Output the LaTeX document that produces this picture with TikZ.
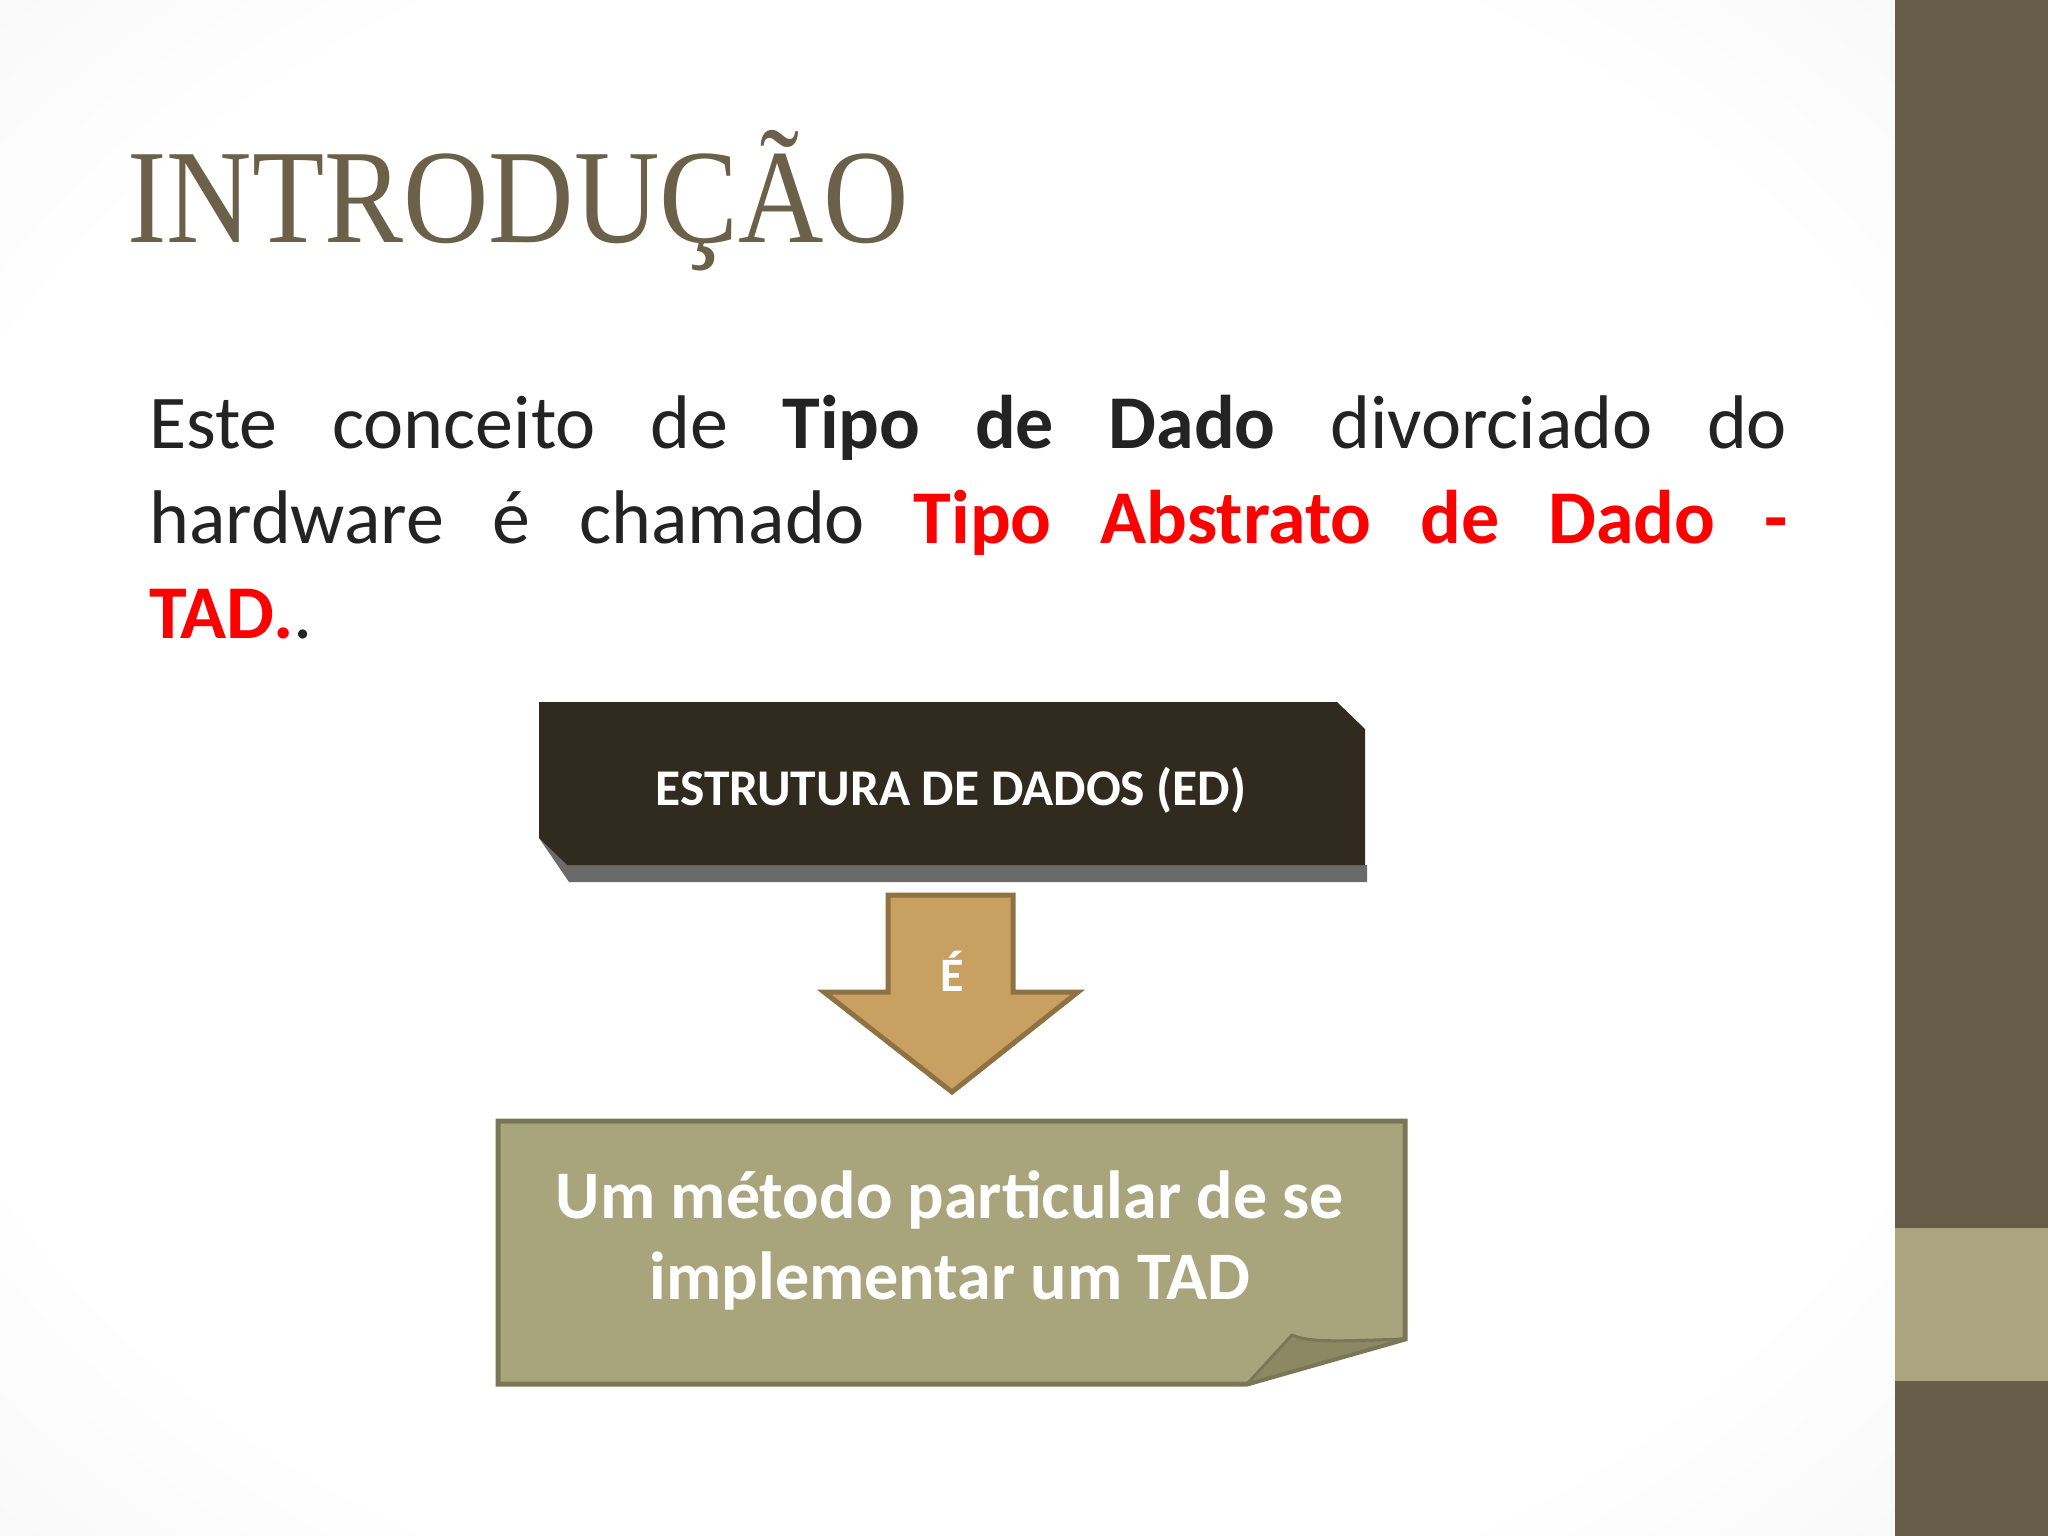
\documentclass[tikz,border=0pt]{standalone}
\usepackage{fontspec}
\setmainfont{Carlito}
\newfontfamily\titlefont{Liberation Serif}
\definecolor{sidedark}{HTML}{675C47}
\definecolor{sidelight}{HTML}{AAA57E}
\definecolor{titlecol}{HTML}{6B6049}
\definecolor{bodycol}{HTML}{232323}
\definecolor{tadred}{HTML}{FF0000}
\definecolor{boxdark}{HTML}{312A1F}
\definecolor{boxshadow}{HTML}{6A6A6A}
\definecolor{arrowfill}{HTML}{C8A062}
\definecolor{arrowline}{HTML}{8E7241}
\definecolor{olivefill}{HTML}{A8A57C}
\definecolor{oliveline}{HTML}{7A7757}
\definecolor{foldfill}{HTML}{8B8862}
\pgfdeclareradialshading{vignette}{\pgfpoint{0bp}{0bp}}{color(0bp)=(white); color(28bp)=(white); color(71bp)=(black!14)}
\tikzset{
  bodyline/.style={anchor=base west, inner sep=0pt, text=bodycol, font=\fontsize{76}{95}\selectfont},
  whitetext/.style={inner sep=0pt, text=white, font=\bfseries},
}
\newcommand{\redb}[1]{{\color{tadred}\bfseries #1}}
\begin{document}
\begin{tikzpicture}[x=1pt,y=-1pt]
\useasboundingbox (0,0) rectangle (2048,1536);
% background
\shade[shading=vignette] (0,0) rectangle (1895,1536);
\fill[sidedark] (1895,0) rectangle (2048,1536);
\fill[sidelight] (1895,1228) rectangle (2048,1381);
% title
\node[anchor=base west, inner sep=0pt, text=titlecol, font=\titlefont\fontsize{134}{140}\selectfont] (title) at (127,242) {\scalebox{0.883}[1]{INTRODUÇÃO}};
% body text
\node[bodyline] (l1) at (149,448) {\makebox[1638pt][s]{Este conceito de \textbf{Tipo de Dado} divorciado do}};
\node[bodyline] (l2) at (149,543) {\makebox[1638pt][s]{hardware é chamado \redb{Tipo Abstrato de Dado -}}};
\node[bodyline] (l3) at (149,638) {\redb{TAD.}.};
% top box
\fill[boxshadow] (539,838) -- (569,882) -- (1367,882) -- (1367,865) -- (567,865) -- cycle;
\fill[boxdark] (539,702) -- (1337,702) -- (1365,729) -- (1365,865) -- (567,865) -- (539,838) -- cycle;
\node[whitetext, anchor=base, font=\bfseries\fontsize{51.5}{60}\selectfont] (ed) at (951,805) {ESTRUTURA DE DADOS (ED)};
% arrow
\draw[arrowline, fill=arrowfill, line width=5pt, line join=miter] (888,895) -- (1013,895) -- (1013,992) -- (1078,992) -- (952,1092) -- (824,992) -- (888,992) -- cycle;
\node[whitetext, anchor=base, font=\bfseries\fontsize{48}{50}\selectfont] (e) at (952,991) {É};
% bottom box
\draw[oliveline, fill=olivefill, line width=5pt, line join=miter] (498,1121) -- (1405,1121) -- (1405,1339) -- (1247,1384) -- (498,1384) -- cycle;
\draw[oliveline, fill=foldfill, line width=3pt, line join=round] (1247,1384) -- (1292,1335) .. controls (1310,1343) and (1340,1341) .. (1405,1339) -- cycle;
\node[whitetext, anchor=base, font=\bfseries\fontsize{68}{80}\selectfont] (um1) at (950,1218) {Um método particular de se};
\node[whitetext, anchor=base, font=\bfseries\fontsize{68}{80}\selectfont] (um2) at (950,1299) {implementar um TAD};
\end{tikzpicture}
\end{document}
